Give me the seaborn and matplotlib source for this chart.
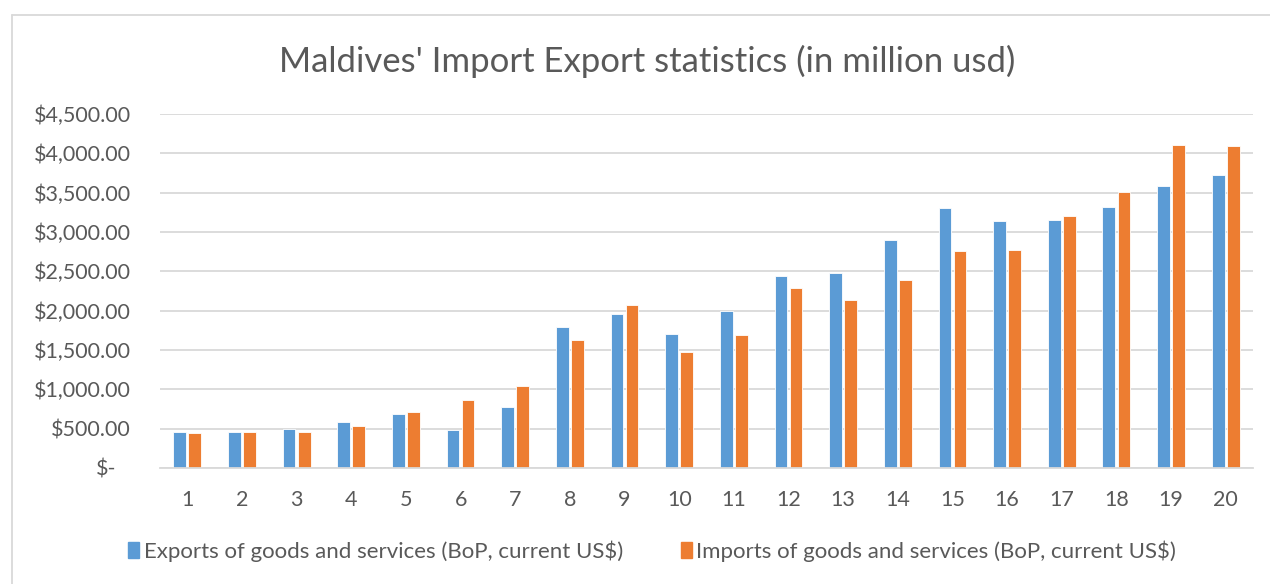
import numpy as np
import pandas as pd
import matplotlib.pyplot as plt
import matplotlib.patches as mpatches
import matplotlib.ticker as mticker
import matplotlib.transforms as mtransforms
import seaborn as sns

# --- data (million USD) ---
years = list(range(1, 21))
exports = [454, 463, 492, 581, 683, 483, 772, 1798, 1959, 1705,
           2001, 2438, 2476, 2901, 3300, 3142, 3151, 3317, 3584, 3724]
imports = [445, 454, 454, 531, 717, 861, 1043, 1629, 2074, 1471,
           1686, 2290, 2141, 2396, 2753, 2770, 3198, 3504, 4106, 4093]
series_names = ["Exports of goods and services (BoP, current US$)",
                "Imports of goods and services (BoP, current US$)"]
colors = ["#5B9BD5", "#ED7D31"]
title = "Maldives' Import Export statistics (in million usd)"

df = pd.DataFrame({
    "year": years * 2,
    "value": exports + imports,
    "series": [series_names[0]] * len(years) + [series_names[1]] * len(years),
})

sns.set_theme(style="white")
plt.rcParams['font.family'] = ['Lato', 'DejaVu Sans']
text_col = "#595959"

fig = plt.figure(figsize=(12.7, 5.84), dpi=100)
ax = fig.add_axes([160 / 1270, 1 - 468 / 584, (1253 - 160) / 1270, (468 - 114) / 584])

sns.barplot(data=df, x="year", y="value", hue="series", palette=colors,
            width=0.55, gap=0.15, ax=ax, legend=False,
            edgecolor="white", linewidth=0.6, saturation=1)

ax.set_ylim(0, 4500)
ax.set_xlim(-0.5, len(years) - 0.5)
yticks = np.arange(0, 4501, 500)
ax.set_yticks(yticks)
ax.set_yticklabels(["$-" if v == 0 else f"${v:,.2f}" for v in yticks])
ax.grid(axis="y", color="#d9d9d9", linewidth=1.3)
ax.set_axisbelow(True)
for s in ["top", "right", "left"]:
    ax.spines[s].set_visible(False)
ax.spines["bottom"].set_color("#d9d9d9")
ax.spines["bottom"].set_linewidth(1.3)
ax.tick_params(axis="y", length=0, pad=21, labelsize=15.5, labelcolor=text_col)
ax.tick_params(axis="x", length=0, pad=16, labelsize=15.5, labelcolor=text_col)
ax.set_xlabel("")
ax.set_ylabel("")

# accounting format: the "$-" sits a little left of the other labels
zero_lab = ax.get_yticklabels()[0]
zero_lab.set_transform(zero_lab.get_transform() +
                       mtransforms.ScaledTranslation(-14 / 100, 0, fig.dpi_scale_trans))

fig.text(647 / 1270, 1 - 61 / 584, title, ha="center", va="center",
         fontsize=25, color=text_col)

handles = [mpatches.Patch(color=c, label=n) for c, n in zip(colors, series_names)]
fig.legend(handles=handles, loc="center", bbox_to_anchor=(652 / 1270, 1 - 551 / 584),
           ncol=2, frameon=False, fontsize=16, labelcolor=text_col,
           handlelength=0.5, handleheight=0.75, handletextpad=0.2, columnspacing=2.6)

# chart-area border (left and top edges visible in the reference)
fig.add_artist(plt.Line2D([12 / 1270, 12 / 1270], [0, 1 - 15 / 584],
                          transform=fig.transFigure, color="#d9d9d9", linewidth=1.3))
fig.add_artist(plt.Line2D([12 / 1270, 1], [1 - 15 / 584, 1 - 15 / 584],
                          transform=fig.transFigure, color="#d9d9d9", linewidth=1.3))

fig.savefig("out.png", dpi=100, facecolor="white")
